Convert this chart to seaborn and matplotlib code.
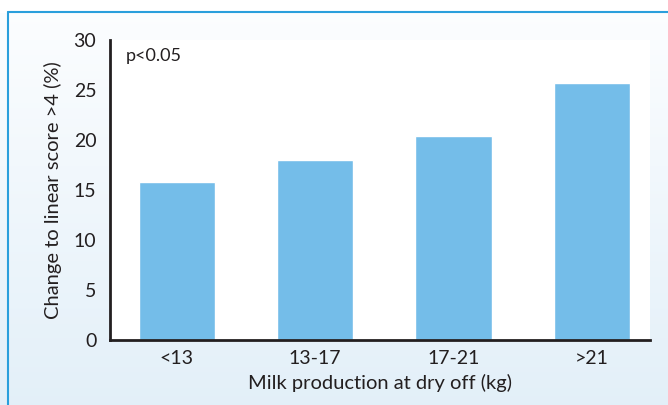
import numpy as np
import pandas as pd
import matplotlib.pyplot as plt
import seaborn as sns
from matplotlib.lines import Line2D

groups = ['<13', '13-17', '17-21', '>21']
change = [15.8, 18.0, 20.4, 25.7]

df = pd.DataFrame({'group': groups, 'change': change})

sns.set_style('white')
plt.rcParams['font.family'] = ['Lato', 'DejaVu Sans']

fig = plt.figure(figsize=(6.68, 4.05), dpi=100)

# background panel with a soft gradient
bg = fig.add_axes([0, 0, 1, 1], zorder=-10)
grad = np.linspace(0, 1, 256).reshape(-1, 1)
top = np.array([0.99, 0.995, 1.0])
bot = np.array([0.89, 0.94, 0.975])
img = top + (bot - top) * grad[:, :, None]
bg.imshow(img, aspect='auto', extent=[0, 1, 0, 1])
bg.set_xlim(0, 1)
bg.set_ylim(0, 1)
bg.axis('off')
# white strip above the panel
bg.fill_between([0, 1], 1 - 12 / 405, 1, color='white', zorder=2)
fig.add_artist(Line2D([8 / 668, 1], [1 - 12 / 405] * 2, color='#2a9fdc', lw=1.5))
fig.add_artist(Line2D([8 / 668] * 2, [0, 1 - 12 / 405], color='#2a9fdc', lw=1.5))

ax = fig.add_axes([0.165, 0.160, 0.808, 0.741])
ax.set_facecolor('white')
sns.barplot(data=df, x='group', y='change', color='#74bde9', saturation=1,
            width=0.55, ax=ax)

ax.set_ylim(0, 30)
ax.set_xlim(-0.48, 3.42)
ax.set_yticks(range(0, 31, 5))
ax.set_ylabel('Change to linear score >4 (%)', fontsize=14.5, color='#231f20', labelpad=8)
ax.set_xlabel('Milk production at dry off (kg)', fontsize=14.5, color='#231f20', labelpad=5)
ax.tick_params(axis='both', length=0, labelsize=14, colors='#231f20')
ax.tick_params(axis='y', pad=10)
ax.tick_params(axis='x', pad=7)
sns.despine(ax=ax)
for s in ['left', 'bottom']:
    ax.spines[s].set_linewidth(2)
    ax.spines[s].set_color('#231f20')

ax.text(0.028, 0.975, 'p<0.05', transform=ax.transAxes, fontsize=13,
        color='#231f20', va='top', ha='left')

fig.savefig('out.png', dpi=100)
